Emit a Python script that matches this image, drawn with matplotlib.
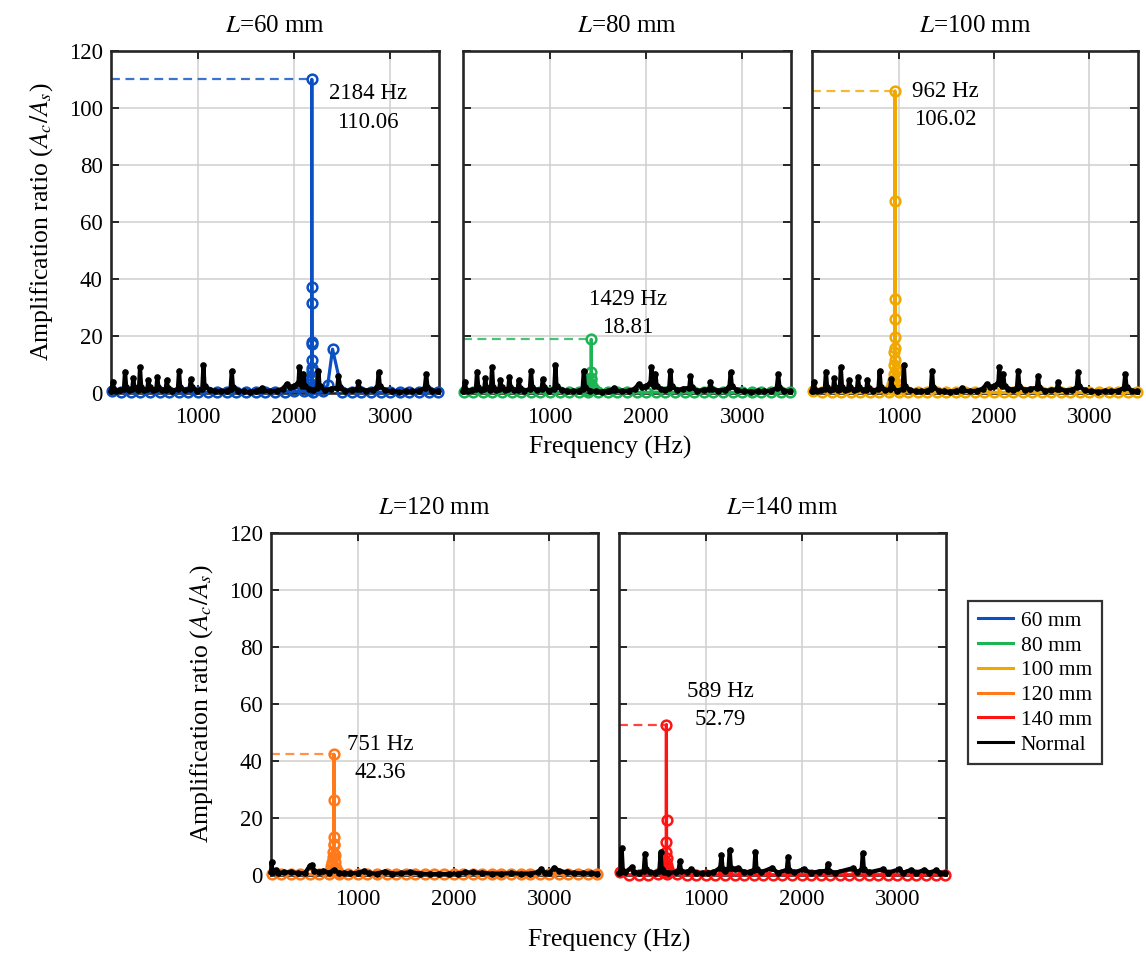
import matplotlib
matplotlib.use("Agg")
import matplotlib.pyplot as plt
from matplotlib.lines import Line2D

plt.rcParams['font.family'] = ['Liberation Serif', 'DejaVu Serif']
plt.rcParams['mathtext.fontset'] = 'stix'

# ---------------- data ----------------
lengths = ["60 mm", "80 mm", "100 mm", "120 mm", "140 mm"]
colors = ["#0A50C2", "#1DB553", "#F0A800", "#FF7A1A", "#FF1414"]
peak_freq = [2184, 1429, 962, 751, 589]
peak_val = [110.06, 18.81, 106.02, 42.36, 52.79]

# regular frequency grid of the coloured (cracked) series
base_freq = [100, 200, 300, 400, 500, 600, 700, 800, 900, 1000,
             1100, 1200, 1300, 1400, 1500, 1600, 1700, 1800, 1900, 2000,
             2100, 2200, 2300, 2400, 2500, 2600, 2700, 2800, 2900, 3000,
             3100, 3200, 3300, 3400, 3500]

base_60 = [0.8, 0.3, 0.2, 0.2, 0.3, 0.2, 0.2, 0.3, 0.2, 0.2,
           0.2, 0.3, 0.2, 0.2, 0.2, 0.2, 0.3, 0.2, 0.4, 0.6,
           0.8, 0.5, 0.6, 15.4, 0.5, 0.3, 0.2, 0.2, 0.3, 0.2,
           0.2, 0.2, 0.3, 0.2, 0.2]
base_80 = [0.5, 0.3, 0.2, 0.2, 0.2, 0.2, 0.3, 0.2, 0.2, 0.2,
           0.2, 0.3, 0.2, 0.4, 0.3, 0.2, 0.2, 0.2, 0.2, 0.2,
           0.3, 0.2, 0.2, 0.2, 0.2, 0.3, 0.2, 0.2, 0.2, 0.2,
           0.2, 0.2, 0.2, 0.2, 0.2]
base_100 = [0.6, 0.3, 0.2, 0.2, 0.2, 0.2, 0.3, 0.3, 0.5, 0.5,
            0.3, 0.2, 0.2, 0.2, 0.2, 0.2, 0.2, 0.2, 0.2, 0.2,
            0.2, 0.2, 0.2, 0.2, 0.2, 0.2, 0.2, 0.2, 0.2, 0.2,
            0.2, 0.2, 0.2, 0.2, 0.2]
base_120 = [0.5, 0.2, 0.2, 0.2, 0.2, 0.3, 0.5, 0.4, 0.3, 0.2,
            0.2, 0.2, 0.2, 0.2, 0.2, 0.2, 0.2, 0.2, 0.2, 0.2,
            0.2, 0.2, 0.2, 0.2, 0.2, 0.2, 0.2, 0.2, 0.2, 0.2,
            0.2, 0.2, 0.2, 0.2, 0.2]
base_140 = [1.2, 0.1, 0.1, 0.1, 0.2, 0.4, 0.3, 0.1, 0.1, 0.1,
            0.1, 0.1, 0.1, 0.1, 0.1, 0.1, 0.1, 0.1, 0.1, 0.1,
            0.1, 0.1, 0.1, 0.1, 0.1, 0.1, 0.1, 0.1, 0.1, 0.1,
            0.1, 0.1, 0.1, 0.1, 0.1]

# dense points around each resonance
res_freq_60 = [2170, 2178, 2180, 2181, 2182, 2183, 2184, 2185, 2186, 2187, 2188, 2190, 2194, 2350]
res_val_60 = [1.0, 3.0, 5.4, 7.8, 11.6, 17.2, 110.06, 37.3, 31.7, 18.0, 8.7, 4.5, 2.0, 2.8]
res_freq_80 = [1395, 1410, 1420, 1426, 1428, 1429, 1431, 1440, 1455]
res_val_80 = [1.0, 2.5, 3.5, 5.1, 7.5, 18.81, 4.5, 2.5, 1.5]
res_freq_100 = [915, 930, 940, 948, 953, 957, 960, 961, 962, 963, 964, 966, 968, 972, 980, 995, 1010]
res_val_100 = [1.5, 3.0, 4.5, 6.5, 9.8, 14.5, 19.5, 33.0, 106.02, 67.5, 25.9, 15.7, 11.6, 8.0, 5.5, 3.0, 1.5]
res_freq_120 = [705, 720, 730, 738, 743, 747, 749, 751, 752, 754, 757, 762, 772, 790]
res_val_120 = [1.5, 3.0, 4.5, 6.2, 8.2, 10.5, 13.2, 42.36, 26.3, 11.0, 7.0, 4.5, 2.5, 1.2]
res_freq_140 = [555, 570, 578, 584, 587, 589, 590, 592, 596, 604, 620]
res_val_140 = [1.2, 3.0, 5.0, 8.0, 11.7, 52.79, 19.3, 6.0, 3.5, 2.0, 1.0]

# "Normal" (uncracked) response curves
normal_a_freq = [94, 115, 125, 150, 185, 228, 240, 252, 280, 315, 326, 338, 370, 385, 396, 408,
                 440, 472, 483, 495, 530, 565, 576, 588, 625, 663, 674, 686, 730, 790, 802, 814,
                 860, 912, 924, 936, 985, 1044, 1056, 1068, 1120, 1180, 1240, 1300, 1339, 1351, 1363,
                 1420, 1480, 1540, 1600, 1650, 1664, 1680, 1750, 1820, 1880, 1924, 1960, 2000, 2045,
                 2055, 2068, 2085, 2097, 2110, 2150, 2200, 2240, 2253, 2265, 2320, 2380, 2449, 2461,
                 2473, 2530, 2600, 2658, 2670, 2682, 2750, 2820, 2866, 2880, 2892, 2950, 3020, 3090,
                 3160, 3230, 3300, 3360, 3375, 3388, 3440, 3500]
normal_a_val = [0.8, 4.0, 1.2, 0.8, 1.0, 1.3, 7.5, 2.2, 1.0, 1.4, 5.1, 2.0, 1.0, 1.5, 9.0, 2.2,
                1.0, 1.3, 4.6, 2.0, 0.9, 1.3, 5.5, 2.0, 0.9, 1.2, 4.6, 1.8, 0.8, 1.4, 7.8, 2.2,
                0.9, 1.3, 4.9, 2.0, 0.8, 1.5, 9.8, 2.4, 1.0, 0.7, 0.6, 0.8, 1.5, 7.8, 2.2,
                0.8, 0.6, 0.5, 0.7, 1.0, 1.8, 0.9, 0.6, 0.8, 1.5, 3.2, 2.0, 2.5, 3.5,
                9.0, 3.0, 2.5, 6.8, 2.5, 1.5, 1.2, 1.8, 7.8, 2.5, 1.0, 1.5, 1.8, 5.9,
                2.0, 0.8, 1.0, 1.3, 3.9, 1.5, 0.8, 1.2, 2.0, 7.3, 2.4, 0.9, 0.6, 0.5,
                0.6, 0.6, 0.8, 1.8, 6.7, 2.0, 0.8, 0.6]

normal_b_freq = [94, 100, 110, 150, 170, 230, 300, 380, 450, 500, 520, 545, 600, 640, 700, 750,
                 800, 860, 920, 1000, 1060, 1120, 1200, 1280, 1360, 1450, 1550, 1650, 1750, 1850,
                 1950, 2050, 2120, 2200, 2300, 2400, 2500, 2600, 2700, 2800, 2880, 2914, 2950,
                 3000, 3052, 3100, 3180, 3260, 3350, 3430, 3500]
normal_b_val = [1.0, 4.6, 1.2, 1.8, 0.8, 0.9, 1.0, 0.6, 0.7, 3.3, 3.6, 1.5, 1.0, 1.5, 0.8, 1.8,
                0.8, 0.7, 0.6, 0.7, 1.3, 0.6, 0.5, 1.2, 0.5, 0.6, 1.0, 0.5, 0.4, 0.4,
                0.4, 0.5, 0.9, 0.9, 0.7, 0.5, 0.5, 0.6, 0.5, 0.5, 1.0, 2.0, 0.8,
                0.8, 2.6, 1.5, 0.9, 0.7, 0.6, 0.6, 0.5]

normal_c_freq = [94, 110, 122, 134, 160, 226, 250, 300, 352, 365, 377, 420, 470, 515, 528, 540,
                 560, 610, 690, 717, 729, 741, 800, 850, 900, 960, 1020, 1080, 1150, 1164, 1176,
                 1205, 1238, 1250, 1262, 1300, 1341, 1400, 1460, 1506, 1518, 1530, 1580, 1691,
                 1750, 1846, 1858, 1870, 1920, 2021, 2100, 2180, 2262, 2274, 2286, 2350, 2535,
                 2580, 2627, 2639, 2651, 2700, 2847, 2900, 3020, 3060, 3143, 3200, 3282, 3330,
                 3403, 3450, 3500]
normal_c_val = [0.8, 1.5, 9.4, 1.5, 1.0, 2.7, 1.0, 0.8, 1.5, 7.5, 2.0, 1.0, 0.8, 1.5, 7.9, 2.0,
                1.0, 0.8, 1.0, 1.8, 4.8, 1.5, 1.0, 2.0, 0.8, 0.7, 0.8, 1.0, 2.5, 7.0, 2.0,
                1.5, 2.5, 8.8, 2.5, 2.0, 2.4, 0.9, 1.2, 1.8, 8.2, 2.0, 1.0, 2.5,
                0.8, 1.8, 6.4, 1.8, 0.9, 2.0, 0.8, 1.2, 1.5, 4.0, 1.3, 0.8, 2.4,
                1.0, 2.0, 7.6, 2.0, 0.9, 2.0, 0.8, 2.0, 0.8, 1.8, 0.8, 1.8, 0.8,
                1.6, 0.7, 0.8]

# annotation anchor positions (data coords) for the peak labels
label_x = [2770, 1810, 1490, 1230, 1150]
label_y = [100, 28, 101, 41, 59.5]

bases = [base_60, base_80, base_100, base_120, base_140]
res_f = [res_freq_60, res_freq_80, res_freq_100, res_freq_120, res_freq_140]
res_v = [res_val_60, res_val_80, res_val_100, res_val_120, res_val_140]
normals = [(normal_a_freq, normal_a_val), (normal_a_freq, normal_a_val), (normal_a_freq, normal_a_val),
           (normal_b_freq, normal_b_val), (normal_c_freq, normal_c_val)]

# ---------------- layout ----------------
W, H = 1146, 956
fig = plt.figure(figsize=(W / 100, H / 100), dpi=100)

def px_axes(x0, x1, ytop, ybot):
    return fig.add_axes([x0 / W, 1 - ybot / H, (x1 - x0) / W, (ybot - ytop) / H])

boxes = [(111, 439, 51, 393), (463, 791, 51, 393), (812, 1138, 51, 393),
         (271, 598, 533, 875), (619, 946, 533, 875)]
XMIN, XMAX = 94, 3508

for i, (x0, x1, yt, yb) in enumerate(boxes):
    ax = px_axes(x0, x1, yt, yb)
    c = colors[i]
    # merge grid + resonance points
    pts = sorted(list(zip(base_freq, bases[i])) + list(zip(res_f[i], res_v[i])))
    fx = [p[0] for p in pts]
    fy = [p[1] for p in pts]
    ax.plot([XMIN, peak_freq[i]], [peak_val[i], peak_val[i]], '--', color=c, lw=1.6,
            alpha=0.8, dashes=(4, 2.5), zorder=2)
    ax.plot(fx, fy, '-', color=c, lw=2.3, marker='o', ms=7, mfc='none', mew=1.8,
            clip_on=False, zorder=3)
    nf, nv = normals[i]
    ax.plot(nf, nv, '-', color='black', lw=3.0, marker='.', ms=7.5, clip_on=False, zorder=4)

    ax.text(label_x[i], label_y[i], f"{peak_freq[i]} Hz\n{peak_val[i]:.2f}", ha='center',
            va='center', fontsize=16.5, linespacing=1.45, zorder=5)

    ax.set_xlim(XMIN, XMAX)
    ax.set_ylim(0, 120)
    ax.set_xticks([1000, 2000, 3000])
    ax.set_yticks([0, 20, 40, 60, 80, 100, 120])
    ax.grid(True, color='#D0D0D0', lw=1.1)
    ax.set_axisbelow(True)
    ax.tick_params(direction='in', length=6, width=1.4, top=True, right=True,
                   labelsize=16.5, colors='#262626', labelcolor='black')
    ax.tick_params(axis='x', pad=10)
    ax.tick_params(axis='y', pad=6)
    for s in ax.spines.values():
        s.set_linewidth(1.9)
        s.set_color('#262626')
    if i not in (0, 3):
        ax.set_yticklabels([])
    else:
        ax.set_ylabel(r'Amplification ratio ($A_c/A_s$)', fontsize=18.5, labelpad=10)
    ax.set_title(r'$L$=' + lengths[i], fontsize=18, pad=14)

fig.text(610 / W, 1 - 447 / H, 'Frequency (Hz)', ha='center', va='center', fontsize=18.5)
fig.text(609 / W, 1 - 940 / H, 'Frequency (Hz)', ha='center', va='center', fontsize=18.5)

handles = [Line2D([0], [0], color=c, lw=2.2) for c in colors] + [Line2D([0], [0], color='black', lw=2.2)]
labels = lengths + ["Normal"]
leg = fig.legend(handles, labels, loc='upper left', bbox_to_anchor=(968 / W, 1 - 601 / H),
                 fontsize=15.5, frameon=True, fancybox=False, edgecolor='black',
                 handlelength=1.65, handletextpad=0.35, labelspacing=0.22, borderpad=0.45,
                 borderaxespad=0)
leg.get_frame().set_linewidth(1.6)

fig.savefig('out.png', dpi=100)
